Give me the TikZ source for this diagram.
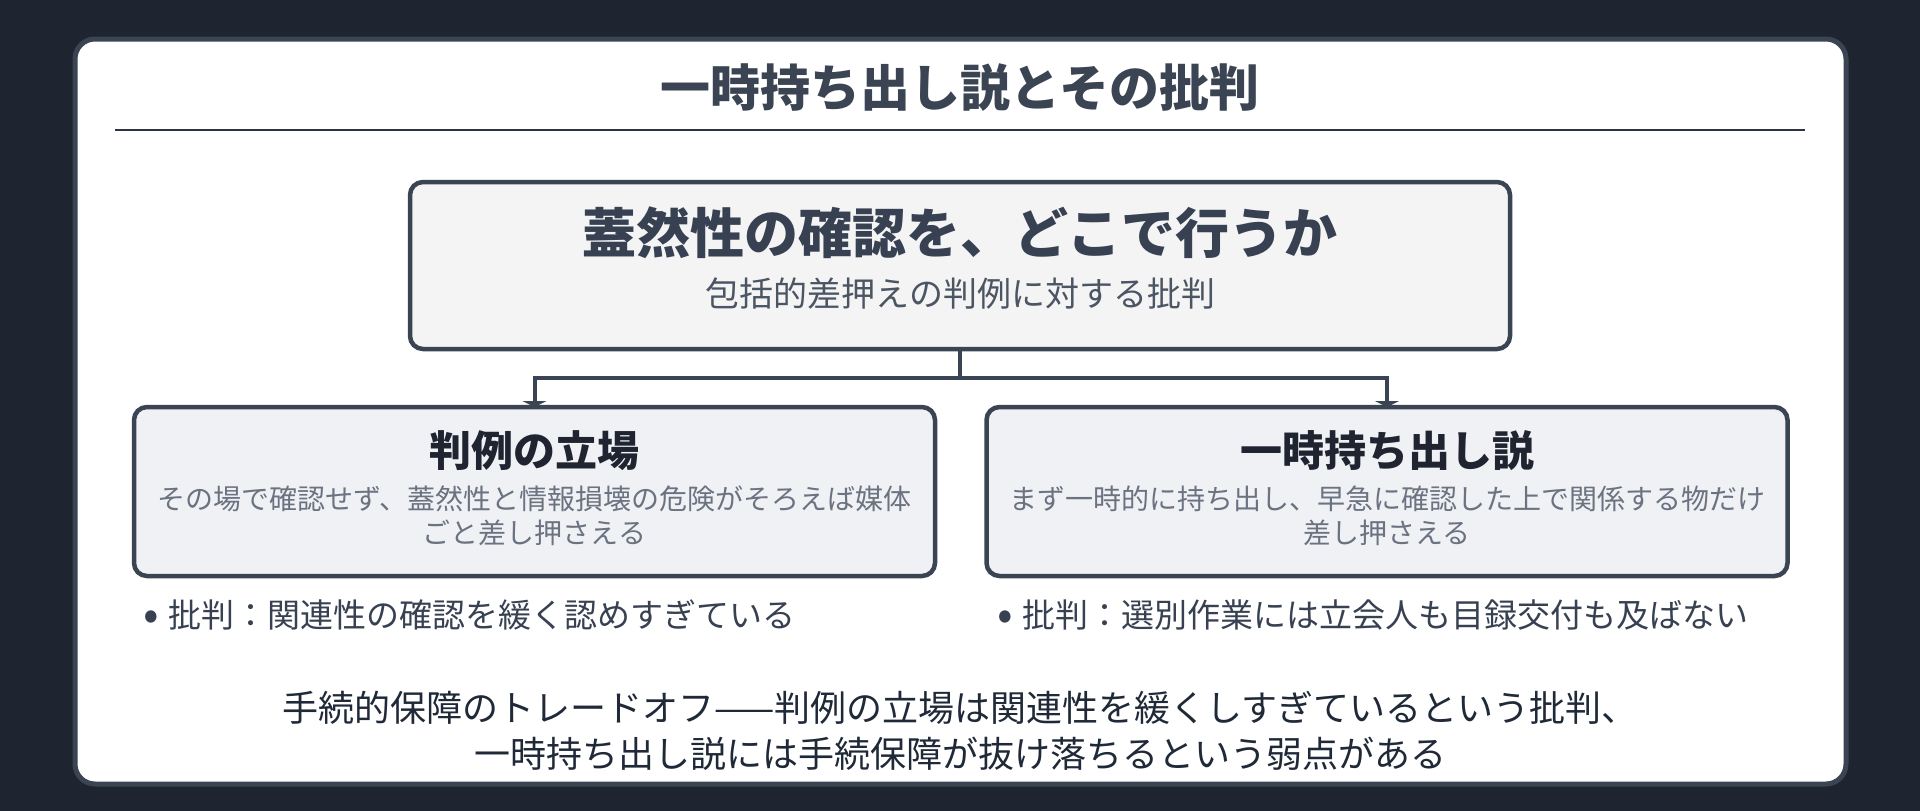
\documentclass[tikz,border=0pt]{standalone}
\usepackage{fontspec}
\setmainfont{Noto Sans CJK JP}
\usetikzlibrary{arrows.meta}
\pgfdeclarelayer{bottom}
\pgfdeclarelayer{links}
\pgfsetlayers{bottom,links,main}
\definecolor{bgc}{HTML}{1E2530}
\definecolor{cardline}{HTML}{3A4453}
\definecolor{rulec}{HTML}{2D3440}
\definecolor{titlec}{HTML}{3B4452}
\definecolor{topfill}{HTML}{F4F4F5}
\definecolor{kidfill}{HTML}{EFF1F5}
\definecolor{boxline}{HTML}{3A4453}
\definecolor{headc}{HTML}{374151}
\definecolor{kidhead}{HTML}{1F2430}
\definecolor{subc}{HTML}{4B5563}
\definecolor{bodyc}{HTML}{6B7280}
\definecolor{bulc}{HTML}{374151}
\definecolor{footc}{HTML}{1F2937}
\newcommand{\fsz}[1]{\fontsize{#1}{#1}\selectfont}
\newcommand{\bul}{\makebox[25pt][l]{\fsz{46}\raisebox{-3pt}{•}}}
\tikzset{
  topbox/.style={draw=boxline, line width=4.5pt, fill=topfill, rounded corners=13pt,
    minimum width=1100pt, minimum height=167pt, inner sep=0pt, outer sep=0pt},
  kidbox/.style={draw=boxline, line width=4.5pt, fill=kidfill, rounded corners=13pt,
    minimum width=801pt, minimum height=169pt, inner sep=0pt, outer sep=0pt},
  conn/.style={draw=boxline, line width=4pt, -{Triangle[width=24pt,length=6pt]}},
  plain/.style={draw=boxline, line width=4pt},
  txt/.style={inner sep=0pt, outer sep=0pt},
}
\begin{document}
\begin{tikzpicture}[x=1pt,y=-1pt]
\begin{pgfonlayer}{bottom}
\fill[bgc] (0,0) rectangle (1920,811);
\draw[cardline, line width=5pt, fill=white, rounded corners=20pt] (75,39) rectangle (1846,784);
\end{pgfonlayer}
\useasboundingbox (0,0) rectangle (1920,811);
% title
\node[txt, text=titlec, font=\fsz{50}\bfseries] (title) at (960,88) {一時持ち出し説とその批判};
\draw[rulec, line width=2.5pt] (115,130) coordinate (r1) -- (1805,130) coordinate (r2);
% top box
\node[topbox] (top) at (960,265.5) {};
\node[txt, text=headc, font=\fsz{54}\bfseries] (toph) at (960,233) {蓋然性の確認を、どこで行うか};
\node[txt, text=subc, font=\fsz{34}] (tops) at (960,294) {包括的差押えの判例に対する批判};
% child boxes
\node[kidbox] (left) at (534.5,491.5) {};
\node[kidbox] (right) at (1387,491.5) {};
% connectors
\coordinate (j) at (960,378);
\begin{pgfonlayer}{links}
\draw[plain] (top.south) -- (j);
\draw[conn] (j) -| (left.north);
\draw[conn] (j) -| (right.north);
\end{pgfonlayer}
% left content
\node[txt, text=kidhead, font=\fsz{42}\bfseries] (lh) at (534.5,451) {判例の立場};
\node[txt, text=bodyc, font=\fsz{28}] (lb1) at (534.5,499) {その場で確認せず、蓋然性と情報損壊の危険がそろえば媒体};
\node[txt, text=bodyc, font=\fsz{28}] (lb2) at (534.5,533) {ごと差し押さえる};
% right content
\node[txt, text=kidhead, font=\fsz{42}\bfseries] (rh) at (1387,451) {一時持ち出し説};
\node[txt, text=bodyc, font=\fsz{28}] (rb1) at (1387,499) {まず一時的に持ち出し、早急に確認した上で関係する物だけ};
\node[txt, text=bodyc, font=\fsz{28}] (rb2) at (1387,533) {差し押さえる};
% bullets
\node[txt, text=bulc, font=\fsz{33}, anchor=west] (lbul) at (143,615) {\bul 批判：関連性の確認を緩く認めすぎている};
\node[txt, text=bulc, font=\fsz{33}, anchor=west] (rbul) at (997,615) {\bul 批判：選別作業には立会人も目録交付も及ばない};
% footer
\node[txt, text=footc, font=\fsz{36}] (f1) at (960,708) {手続的保障のトレードオフ——判例の立場は関連性を緩くしすぎているという批判、};
\node[txt, text=footc, font=\fsz{36}] (f2) at (960,754) {一時持ち出し説には手続保障が抜け落ちるという弱点がある};
\end{tikzpicture}
\end{document}
